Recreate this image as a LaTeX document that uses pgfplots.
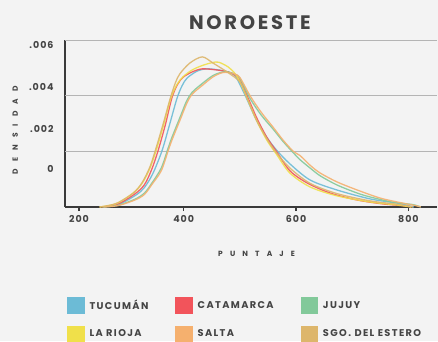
\documentclass[border=0pt]{standalone}
\usepackage{fontspec}
\setmainfont{Poppins}
\newfontfamily\legfont[LetterSpace=14]{Poppins}
\newfontfamily\tickfont[LetterSpace=10]{Poppins}
\newfontfamily\spfont[LetterSpace=95]{Poppins}
\usepackage{pgfplots}
\pgfplotsset{compat=1.18}
\definecolor{bgc}{HTML}{F3F3F3}
\definecolor{axc}{HTML}{3A3A3A}
\definecolor{txc}{HTML}{444444}
\definecolor{grc}{HTML}{B4B4B4}
\definecolor{tuc}{HTML}{6CBBD6}
\definecolor{cat}{HTML}{F2545B}
\definecolor{juj}{HTML}{82C99A}
\definecolor{rio}{HTML}{F0E04A}
\definecolor{sal}{HTML}{F5B06E}
\definecolor{sgo}{HTML}{DDB66B}
\begin{document}
\begin{tikzpicture}
\fill[bgc, use as bounding box] (-65pt,-134pt) rectangle (373pt,207pt);
\begin{axis}[
  at={(0pt,0pt)}, anchor=south west,
  scale only axis, width=372pt, height=167pt,
  xmin=188.6, xmax=851, ymin=0, ymax=0.005996,
  axis x line*=bottom, axis y line*=left,
  axis line style={axc, line width=1.6pt},
  xtick={213.5,400,600,800}, xticklabels={200,400,600,800},
  ytick={0.001354,0.002801,0.004298,0.005817}, yticklabels={0,.002,.004,.006},
  scaled y ticks=false, scaled x ticks=false,
  /pgf/number format/assume math mode=true,
  tick label style={font=\tickfont\bfseries\fontsize{9.5}{11}\selectfont, text=txc},
  xtick style={axc, line width=1.2pt},
  major tick length=4pt,
  xtick pos=bottom, tick align=outside,
  ytick style={draw=none},
  yticklabel style={xshift=-4pt},
  xticklabel style={yshift=-1pt},
  extra y ticks={0.002,0.004,0.005996},
  extra y tick labels={},
  extra y tick style={grid=major, major grid style={grc, line width=0.7pt}, tick style={draw=none}},
  every axis plot/.append style={line width=1.3pt, smooth, opacity=0.9},
  clip=false,
  legend columns=3,
  legend cell align=left,
  legend image code/.code={\fill[#1, opacity=1] (0pt,-7.5pt) rectangle (16pt,7.5pt);},
  legend style={at={(axis description cs:0.0054,-0.539)}, anchor=north west,
    draw=none, fill=none, inner sep=0pt, row sep=12pt,
    font=\legfont\bfseries\fontsize{9.8}{11}\selectfont, text=txc,
    /tikz/every odd column/.append style={column sep=3pt},
    /tikz/every even column/.append style={column sep=25pt}},
]
\addplot[tuc] coordinates {(256,0)(285,0.0001)(315,0.00043)(330,0.0007)(345,0.0012)(361,0.002)(374,0.0029)(388,0.0039)(397,0.00435)(406,0.00463)(424,0.00488)(441,0.00496)(459,0.00493)(479,0.00485)(491,0.00472)(500,0.0044)(513,0.00385)(530,0.0031)(548,0.0025)(565,0.00205)(589,0.00155)(625,0.00097)(673,0.00061)(732,0.00029)(780,0.00014)(800,0.00005)(810,0)};
\addlegendentry{TUCUMÁN}
\addplot[cat] coordinates {(254,0)(283,0.00011)(313,0.00047)(330,0.0008)(343,0.00135)(354,0.002)(367,0.00293)(379,0.00392)(389,0.0044)(399,0.00466)(415,0.00485)(433,0.00496)(459,0.00492)(479,0.00485)(491,0.00474)(500,0.00456)(513,0.00399)(530,0.0032)(548,0.0025)(565,0.002)(589,0.0013)(620,0.00086)(661,0.0005)(709,0.00025)(755,0.00011)(794,0.00004)(805,0)};
\addlegendentry{CATAMARCA}
\addplot[juj] coordinates {(256,0)(283,0.00006)(313,0.00028)(330,0.0005)(343,0.00085)(360,0.0014)(372,0.0021)(379,0.0025)(395,0.0033)(405,0.0038)(415,0.00412)(434,0.00445)(452,0.00472)(468,0.00484)(479,0.00485)(490,0.00478)(500,0.00462)(518,0.0039)(538,0.0033)(559,0.0028)(577,0.00235)(595,0.00195)(607,0.0017)(625,0.0014)(643,0.00112)(673,0.00079)(709,0.0005)(732,0.00036)(770,0.00018)(790,0.00013)(810,0.00008)(822,0)};
\addlegendentry{JUJUY}
\addplot[rio] coordinates {(250,0)(280,0.00012)(310,0.0005)(326,0.00085)(340,0.0014)(352,0.0021)(365,0.003)(377,0.0039)(388,0.0044)(399,0.00468)(415,0.00492)(433,0.00508)(450,0.00518)(462,0.0052)(479,0.00503)(491,0.0048)(500,0.0045)(513,0.0039)(530,0.0031)(548,0.0024)(565,0.0019)(589,0.00122)(625,0.00072)(673,0.0004)(732,0.00018)(780,0.00007)(805,0)};
\addlegendentry{LA RIOJA}
\addplot[sal] coordinates {(258,0)(283,0.00005)(313,0.00025)(330,0.00045)(343,0.0008)(360,0.0013)(372,0.002)(379,0.0024)(395,0.0032)(405,0.0037)(415,0.00405)(434,0.00438)(452,0.00467)(468,0.00482)(479,0.00483)(490,0.00478)(500,0.00465)(518,0.004)(538,0.0034)(559,0.00287)(577,0.0024)(595,0.002)(607,0.00185)(625,0.0015)(643,0.00122)(673,0.0009)(709,0.00061)(750,0.00032)(790,0.00014)(815,0.00004)(822,0)};
\addlegendentry{SALTA}
\addplot[sgo] coordinates {(250,0)(280,0.00013)(310,0.0005)(326,0.00088)(340,0.00145)(352,0.0022)(365,0.0031)(376,0.0039)(385,0.00445)(393,0.00478)(411,0.00517)(433,0.00539)(452,0.00517)(477,0.00485)(500,0.00449)(513,0.0039)(530,0.0031)(548,0.00245)(565,0.00195)(589,0.0014)(625,0.00085)(673,0.00048)(732,0.00022)(780,0.0001)(808,0)};
\addlegendentry{SGO. DEL ESTERO}
\node[text=txc, font=\legfont\bfseries\fontsize{19.5}{22}\selectfont] at (axis description cs:0.497,1.102) {NOROESTE};
\node[text=txc, font=\spfont\bfseries\fontsize{7.5}{8}\selectfont] at (axis description cs:0.515,-0.281) {PUNTAJE};
\node[text=txc, font=\spfont\bfseries\fontsize{7.5}{8}\selectfont, rotate=90] at (axis description cs:-0.134,0.46) {DENSIDAD};
\end{axis}
\end{tikzpicture}
\end{document}
